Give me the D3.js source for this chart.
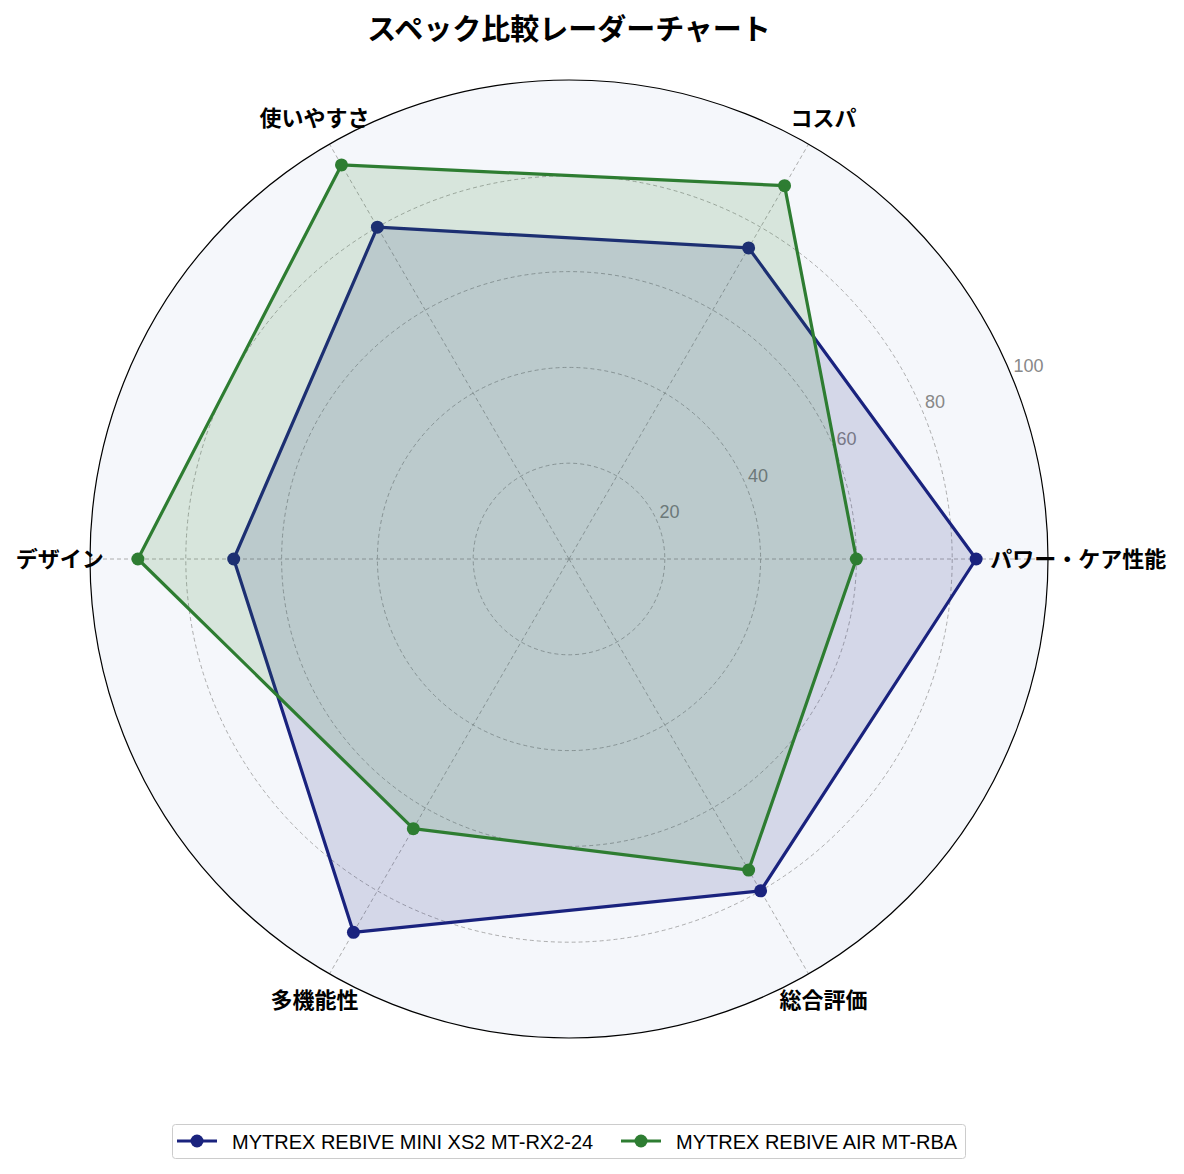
<!DOCTYPE html>
<html>
<head>
<meta charset="utf-8">
<script src="https://cdn.jsdelivr.net/npm/d3@7"></script>
<style>
  body { margin: 0; background: #fff; }
  svg { display: block; }
</style>
</head>
<body>
<div id="chart"></div>
<script>
const categories = ['パワー・ケア性能', 'コスパ', '使いやすさ', 'デザイン', '多機能性', '総合評価'];
const seriesNames = ['MYTREX REBIVE MINI XS2 MT-RX2-24', 'MYTREX REBIVE AIR MT-RBA'];
const miniValues = [85, 75, 80, 70, 90, 80];
const airValues = [60, 90, 95, 90, 65, 75];
const radialTicks = [20, 40, 60, 80, 100];
const colors = ['#1a237e', '#2e7d32'];

const width = 1184, height = 1174;
const cx = 569, cy = 559, R = 479;
const jp = '"Noto Sans CJK JP", "Noto Sans", sans-serif';
const latin = '"Liberation Sans", Arial, sans-serif';

const svg = d3.select('#chart').append('svg')
    .attr('width', width)
    .attr('height', height);

const r = d3.scaleLinear().domain([0, 100]).range([0, R]);
// angle 0 at right, counterclockwise
const angle = d3.scaleLinear().domain([0, categories.length]).range([0, 2 * Math.PI]);

function pt(i, v) {
    const a = angle(i);
    return [cx + r(v) * Math.cos(a), cy - r(v) * Math.sin(a)];
}

// plot background
svg.append('circle')
    .attr('cx', cx).attr('cy', cy).attr('r', R)
    .attr('fill', '#f5f7fb');

// grid rings
svg.append('g').selectAll('circle')
    .data(radialTicks.slice(0, -1))
    .enter().append('circle')
    .attr('cx', cx).attr('cy', cy)
    .attr('r', d => r(d))
    .attr('fill', 'none')
    .attr('stroke', '#999')
    .attr('stroke-width', 0.8)
    .attr('stroke-dasharray', '4,3');

// spokes
svg.append('g').selectAll('line')
    .data(categories)
    .enter().append('line')
    .attr('x1', cx).attr('y1', cy)
    .attr('x2', (d, i) => pt(i, 100)[0])
    .attr('y2', (d, i) => pt(i, 100)[1])
    .attr('stroke', '#999')
    .attr('stroke-width', 0.8)
    .attr('stroke-dasharray', '4,3');

// outer circle
svg.append('circle')
    .attr('cx', cx).attr('cy', cy).attr('r', R)
    .attr('fill', 'none')
    .attr('stroke', '#000')
    .attr('stroke-width', 1.2);

// radial tick labels at 22.5 deg
const la = 22.5 * Math.PI / 180;
svg.append('g').selectAll('text')
    .data(radialTicks)
    .enter().append('text')
    .attr('x', d => cx + r(d) * Math.cos(la) + 2)
    .attr('y', d => cy - r(d) * Math.sin(la) - 4)
    .attr('font-family', latin)
    .attr('font-size', 18)
    .attr('fill', '#888')
    .text(d => d);

const line = d3.line().curve(d3.curveLinearClosed);

[miniValues, airValues].forEach((vals, s) => {
    const pts = vals.map((v, i) => pt(i, v));
    const g = svg.append('g');
    g.append('path')
        .attr('d', line(pts))
        .attr('fill', 'none')
        .attr('stroke', colors[s])
        .attr('stroke-width', 3.2)
        .attr('stroke-linejoin', 'round');
    g.selectAll('circle')
        .data(pts)
        .enter().append('circle')
        .attr('cx', d => d[0]).attr('cy', d => d[1])
        .attr('r', 6.5)
        .attr('fill', colors[s]);
    g.append('path')
        .attr('d', line(pts))
        .attr('fill', colors[s])
        .attr('fill-opacity', 0.15)
        .attr('stroke', 'none');
});

// category labels
svg.append('g').selectAll('text')
    .data(categories)
    .enter().append('text')
    .attr('x', (d, i) => pt(i, 106.3)[0])
    .attr('y', (d, i) => pt(i, 106.3)[1] - 2)
    .attr('text-anchor', 'middle')
    .attr('dominant-baseline', 'central')
    .attr('font-family', jp)
    .attr('font-weight', 'bold')
    .attr('font-size', 22)
    .attr('fill', '#000')
    .text(d => d);

// title
svg.append('text')
    .attr('x', cx).attr('y', 27)
    .attr('text-anchor', 'middle')
    .attr('dominant-baseline', 'central')
    .attr('font-family', jp)
    .attr('font-weight', 'bold')
    .attr('font-size', 29)
    .text('スペック比較レーダーチャート');

// legend
const legend = svg.append('g');
legend.append('rect')
    .attr('x', 172.5).attr('y', 1124.5)
    .attr('width', 793).attr('height', 34)
    .attr('rx', 3)
    .attr('fill', '#fff')
    .attr('stroke', '#ccc')
    .attr('stroke-width', 1);
const legendX = [177, 621];
seriesNames.forEach((name, s) => {
    const lg = legend.append('g').attr('transform', `translate(${legendX[s]},1141)`);
    lg.append('line')
        .attr('x1', 0).attr('x2', 40)
        .attr('stroke', colors[s]).attr('stroke-width', 3.2);
    lg.append('circle')
        .attr('cx', 20).attr('r', 6.5)
        .attr('fill', colors[s]);
    lg.append('text')
        .attr('x', 55).attr('y', 1)
        .attr('dominant-baseline', 'central')
        .attr('font-family', latin)
        .attr('font-size', 20)
        .attr('fill', '#000')
        .text(name);
});
</script>
</body>
</html>
